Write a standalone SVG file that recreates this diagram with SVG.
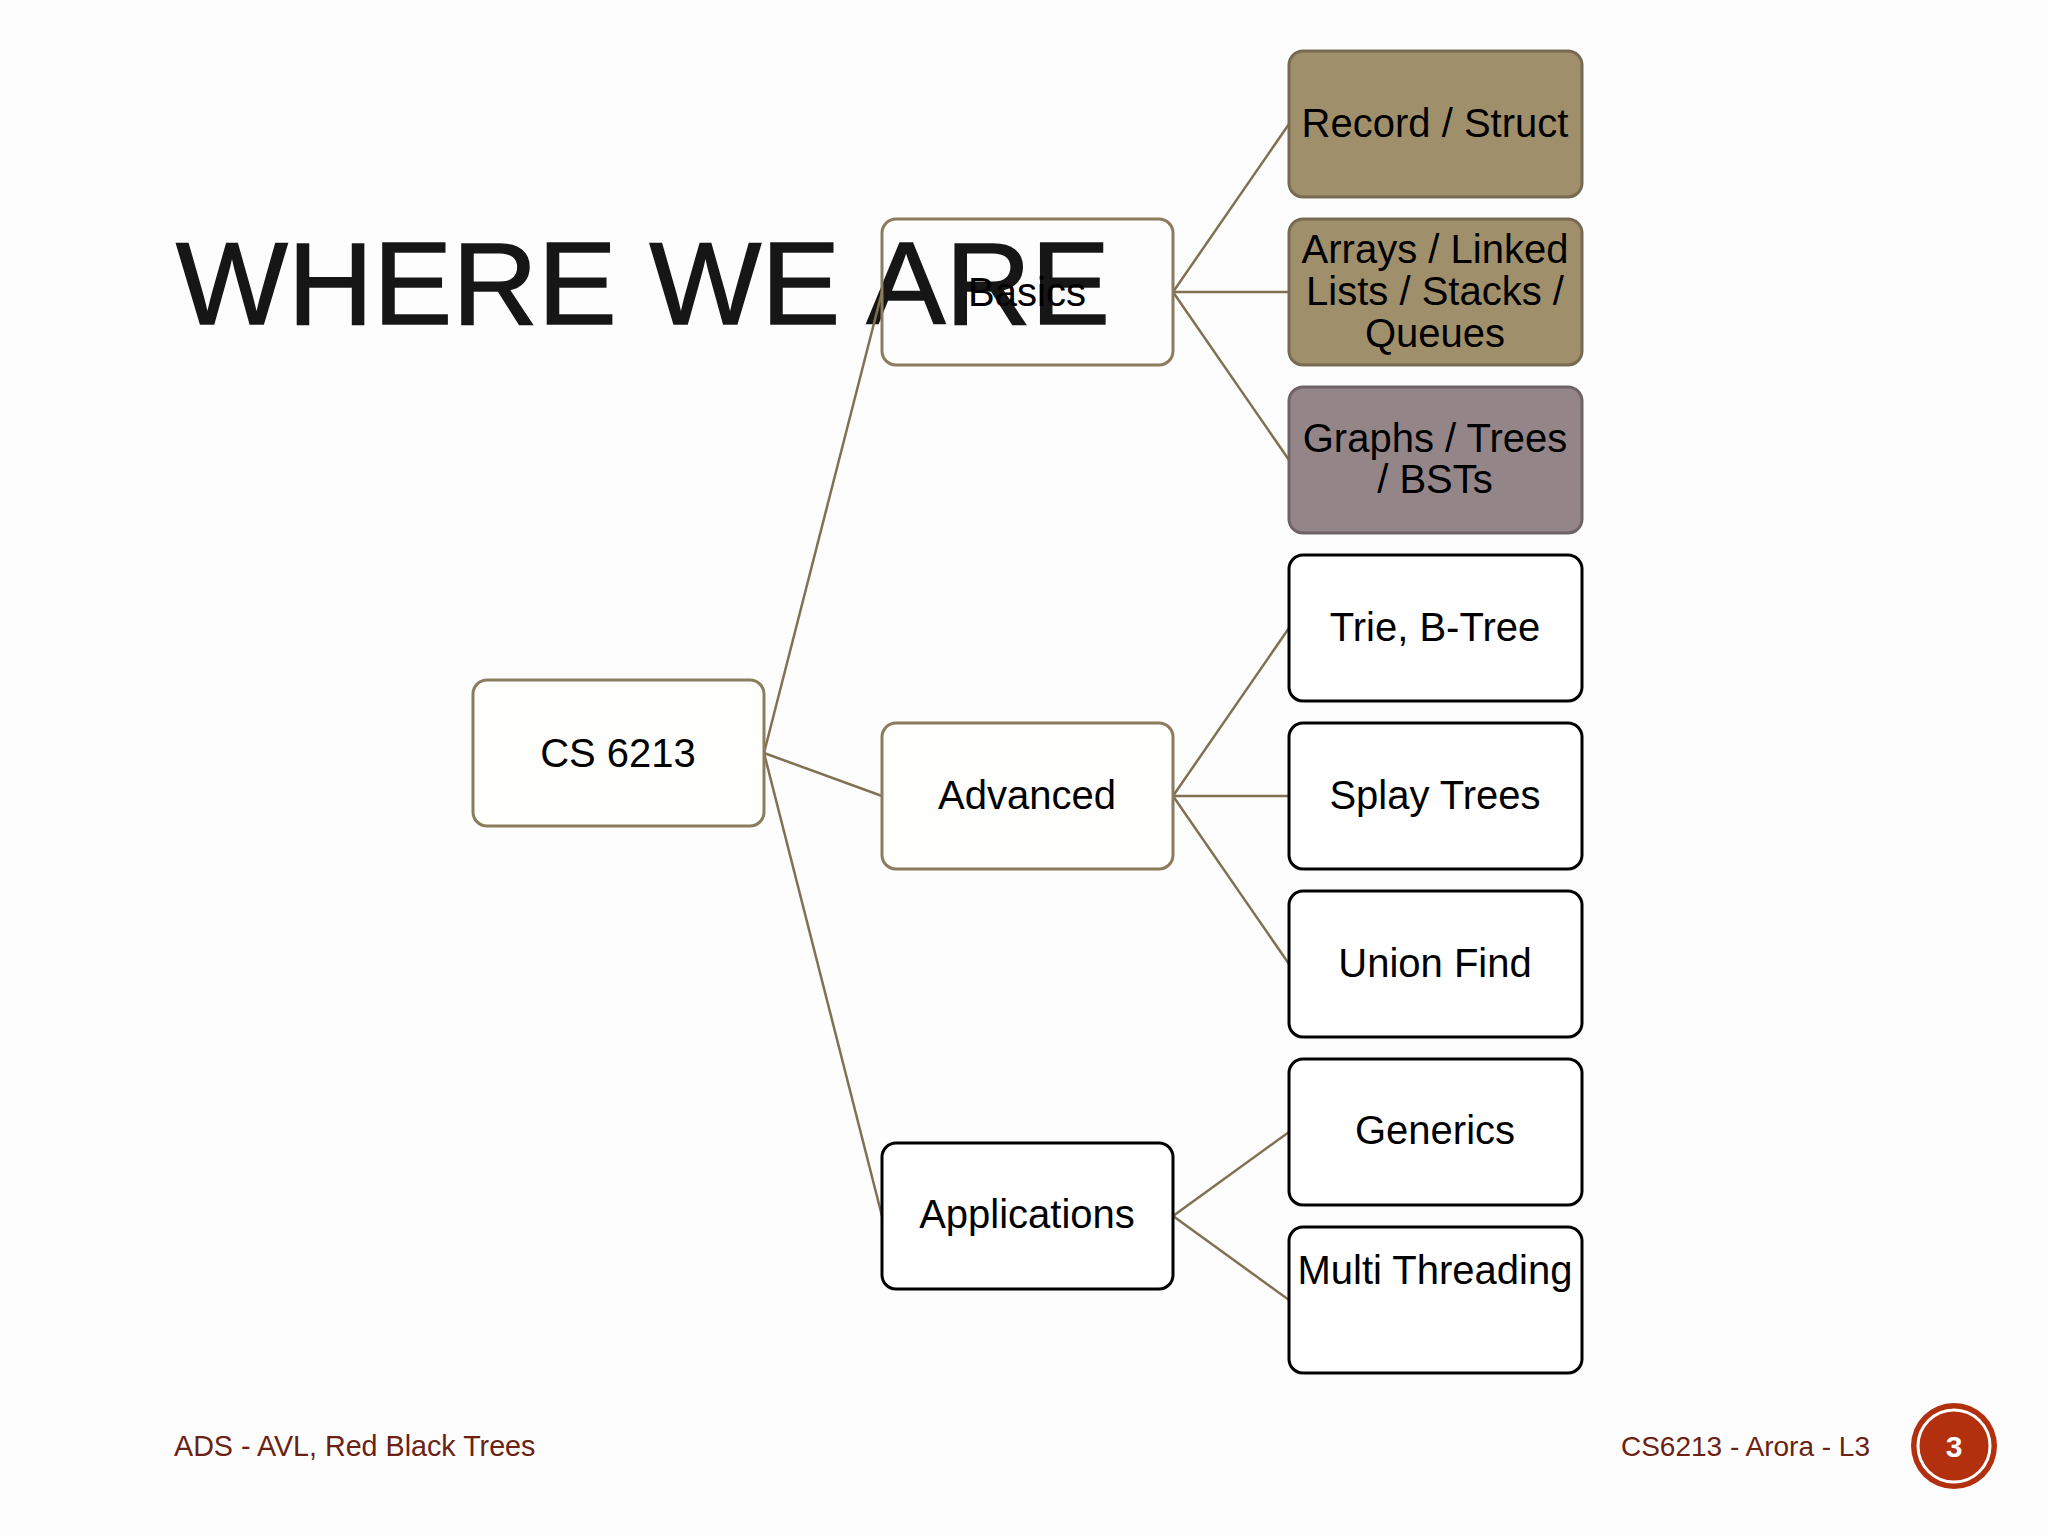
<svg xmlns="http://www.w3.org/2000/svg" width="2048" height="1536" viewBox="0 0 2048 1536">
<style>
  .node { stroke-width: 3; rx: 14; ry: 14; }
  .tan { fill: #fefefd; stroke: #8a7c5c; }
  .blk { fill: #ffffff; stroke: #000000; }
  .fill1 { fill: #a08f6b; stroke: #786a52; }
  .fill2 { fill: #948589; stroke: #6e6468; }
  .lbl { font-family: "Liberation Sans", Arial, sans-serif; font-size: 40px; fill: #000; text-anchor: middle; }
  .conn { stroke: #7f7152; stroke-width: 2.5; fill: none; }
  .foot { font-family: "Liberation Sans", Arial, sans-serif; font-size: 28px; fill: #6a2212; }
</style>
<rect x="0" y="0" width="2048" height="1536" fill="#fefdfd"/>

<text id="title" x="176" y="324" font-family="'Liberation Sans', Arial, sans-serif" font-size="116" fill="#161616" stroke="#161616" stroke-width="1.5" textLength="934" lengthAdjust="spacingAndGlyphs">WHERE WE ARE</text>

<g id="connectors">
  <line class="conn" x1="764" y1="753" x2="882" y2="292"/>
  <line class="conn" x1="764" y1="753" x2="882" y2="796"/>
  <line class="conn" x1="764" y1="753" x2="882" y2="1216"/>
  <line class="conn" x1="1173" y1="292" x2="1289" y2="124"/>
  <line class="conn" x1="1173" y1="292" x2="1289" y2="292"/>
  <line class="conn" x1="1173" y1="292" x2="1289" y2="460"/>
  <line class="conn" x1="1173" y1="796" x2="1289" y2="628"/>
  <line class="conn" x1="1173" y1="796" x2="1289" y2="796"/>
  <line class="conn" x1="1173" y1="796" x2="1289" y2="964"/>
  <line class="conn" x1="1173" y1="1216" x2="1289" y2="1132"/>
  <line class="conn" x1="1173" y1="1216" x2="1289" y2="1300"/>
</g>

<g id="node-cs6213">
  <rect class="node tan" x="473" y="680" width="291" height="146"/>
  <text class="lbl" x="618" y="767">CS 6213</text>
</g>
<g id="node-basics">
  <rect class="node tan" x="882" y="219" width="291" height="146" style="fill:none"/>
  <text class="lbl" x="1027" y="306">Basics</text>
</g>
<g id="node-advanced">
  <rect class="node tan" x="882" y="723" width="291" height="146"/>
  <text class="lbl" x="1027" y="809">Advanced</text>
</g>
<g id="node-applications">
  <rect class="node blk" x="882" y="1143" width="291" height="146"/>
  <text class="lbl" x="1027" y="1228">Applications</text>
</g>

<g id="node-record">
  <rect class="node fill1" x="1289" y="51" width="293" height="146"/>
  <text class="lbl" x="1435" y="137">Record / Struct</text>
</g>
<g id="node-arrays">
  <rect class="node fill1" x="1289" y="219" width="293" height="146"/>
  <text class="lbl" x="1435" y="263">Arrays / Linked</text>
  <text class="lbl" x="1435" y="305">Lists / Stacks /</text>
  <text class="lbl" x="1435" y="347">Queues</text>
</g>
<g id="node-graphs">
  <rect class="node fill2" x="1289" y="387" width="293" height="146"/>
  <text class="lbl" x="1435" y="452">Graphs / Trees</text>
  <text class="lbl" x="1435" y="493">/ BSTs</text>
</g>
<g id="node-trie">
  <rect class="node blk" x="1289" y="555" width="293" height="146"/>
  <text class="lbl" x="1435" y="641">Trie, B-Tree</text>
</g>
<g id="node-splay">
  <rect class="node blk" x="1289" y="723" width="293" height="146"/>
  <text class="lbl" x="1435" y="809">Splay Trees</text>
</g>
<g id="node-union">
  <rect class="node blk" x="1289" y="891" width="293" height="146"/>
  <text class="lbl" x="1435" y="977">Union Find</text>
</g>
<g id="node-generics">
  <rect class="node blk" x="1289" y="1059" width="293" height="146"/>
  <text class="lbl" x="1435" y="1144">Generics</text>
</g>
<g id="node-multi">
  <rect class="node blk" x="1289" y="1227" width="293" height="146"/>
  <text class="lbl" x="1435" y="1284">Multi Threading</text>
</g>

<g id="footer">
  <text class="foot" x="174" y="1456" style="font-size:28.7px">ADS - AVL, Red Black Trees</text>
  <text class="foot" x="1870" y="1456" text-anchor="end">CS6213 - Arora - L3</text>
  <circle cx="1954" cy="1446" r="43" fill="#b3300f"/>
  <circle cx="1954" cy="1446" r="36" fill="none" stroke="#ffffff" stroke-width="3"/>
  <text x="1954" y="1457" font-family="'Liberation Sans', Arial, sans-serif" font-size="30" font-weight="bold" fill="#ffffff" text-anchor="middle">3</text>
</g>
</svg>
